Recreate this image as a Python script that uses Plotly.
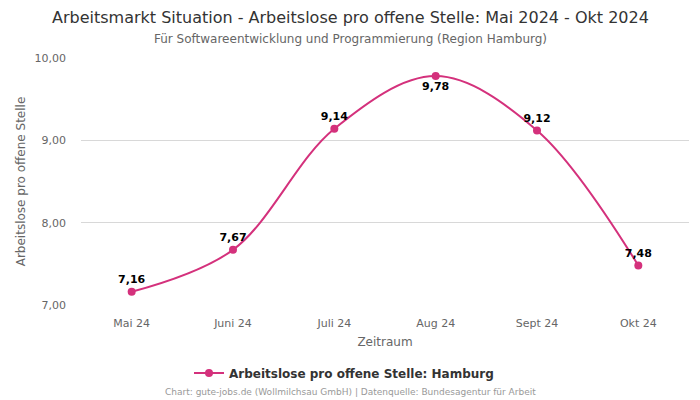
import plotly.graph_objects as go

categories = ["Mai 24", "Juni 24", "Juli 24", "Aug 24", "Sept 24", "Okt 24"]
values = [7.16, 7.67, 9.14, 9.78, 9.12, 7.48]
labels = ["7,16", "7,67", "9,14", "9,78", "9,12", "7,48"]
label_pos = ["top center", "top center", "top center", "bottom center", "top center", "top center"]
y_ticks = [7, 8, 9, 10]
y_tick_labels = ["7,00", "8,00", "9,00", "10,00"]

color = "#d4317c"
font = "DejaVu Sans"

fig = go.Figure()
fig.add_trace(go.Scatter(
    x=list(range(len(categories))), y=values,
    mode="lines+markers+text",
    line=dict(color=color, width=2, shape="spline", smoothing=1.0),
    marker=dict(color=color, size=8),
    text=labels, textposition=label_pos,
    textfont=dict(family=font, size=11, color="#000000", weight="bold"),
    name="Arbeitslose pro offene Stelle: Hamburg",
    cliponaxis=False,
))

W, H = 700, 400
ml, mr, mt, mb = 81, 11, 58, 95
plot_w = W - ml - mr
plot_h = H - mt - mb

def px_x(x):
    return (x - ml) / plot_w

def px_y(y):
    return (H - mb - y) / plot_h

fig.update_layout(
    width=W, height=H,
    margin=dict(l=ml, r=mr, t=mt, b=mb, autoexpand=False),
    paper_bgcolor="white", plot_bgcolor="white",
    font=dict(family=font, color="#666666"),
    showlegend=True,
    legend=dict(orientation="h", x=px_x(344), xanchor="center",
                y=px_y(373), yanchor="middle", itemwidth=30,
                font=dict(family=font, size=12, color="#333333", weight="bold")),
    xaxis=dict(
        tickmode="array", tickvals=list(range(len(categories))), ticktext=categories,
        range=[-0.5, 5.5], showgrid=False, zeroline=False, automargin=False,
        showline=False, ticks="", tickfont=dict(size=11, color="#666666"),
        ticklabelstandoff=10,
        title=dict(text="Zeitraum", font=dict(size=12, color="#666666"), standoff=8),
    ),
    yaxis=dict(
        range=[7, 10], tickmode="array", tickvals=y_ticks, ticktext=y_tick_labels,
        showgrid=True, gridcolor="#d8d8d8", gridwidth=1, zeroline=False, automargin=False,
        tickfont=dict(size=11, color="#666666"), ticks="", ticklabelstandoff=14,
        title=dict(text="Arbeitslose pro offene Stelle", font=dict(size=12, color="#666666"), standoff=6),
    ),
    annotations=[
        dict(text="Arbeitsmarkt Situation - Arbeitslose pro offene Stelle: Mai 2024 - Okt 2024",
             x=px_x(350), xref="paper", xanchor="center", y=px_y(17), yref="paper", yanchor="middle",
             showarrow=False, font=dict(family=font, size=16, color="#333333")),
        dict(text="Für Softwareentwicklung und Programmierung (Region Hamburg)",
             x=px_x(350), xref="paper", xanchor="center", y=px_y(39), yref="paper", yanchor="middle",
             showarrow=False, font=dict(family=font, size=12, color="#666666")),
        dict(text="Chart: gute-jobs.de (Wollmilchsau GmbH) | Datenquelle: Bundesagentur für Arbeit",
             x=px_x(350), xref="paper", xanchor="center", y=px_y(392), yref="paper", yanchor="middle",
             showarrow=False, font=dict(family=font, size=9, color="#999999")),
    ],
)

fig.write_html("out.html", config={"displayModeBar": False},
               post_script="document.body.style.margin='0';document.body.style.padding='0';")
